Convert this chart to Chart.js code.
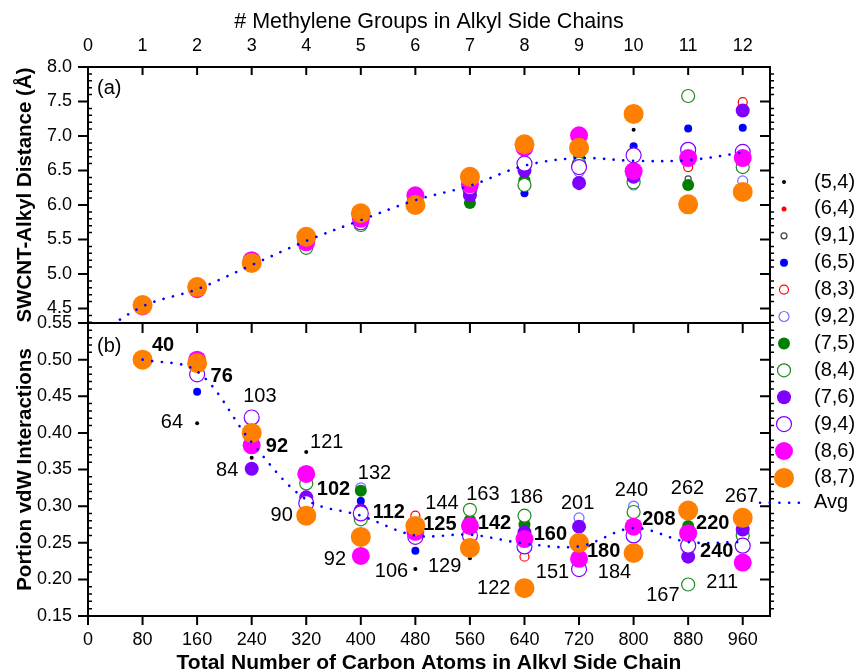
<!DOCTYPE html>
<html>
<head>
<meta charset="utf-8">
<title>SWCNT alkyl side chains</title>
<script src="https://cdn.jsdelivr.net/npm/chart.js@4.4.1/dist/chart.umd.min.js"></script>
<style>
  body { margin: 0; background: #fff; }
  #page { position: relative; width: 859px; height: 669px; overflow: hidden; background: #fff; }
  #page canvas { position: absolute; left: 0; top: 0; }
</style>
</head>
<body>
<div id="page">
  <canvas id="distanceChart" width="859" height="690"></canvas>
  <canvas id="portionChart" width="859" height="690"></canvas>
</div>
<script>
const FONT = "'Liberation Sans', Arial, Helvetica, sans-serif";

const carbonAtoms = [80, 160, 240, 320, 400, 480, 560, 640, 720, 800, 880, 960];
const carbonTicks = [0, 80, 160, 240, 320, 400, 480, 560, 640, 720, 800, 880, 960];
const methyleneTicks = [0, 1, 2, 3, 4, 5, 6, 7, 8, 9, 10, 11, 12];
const distanceTicks = [4.5, 5.0, 5.5, 6.0, 6.5, 7.0, 7.5, 8.0];
const portionTicks = [0.15, 0.20, 0.25, 0.30, 0.35, 0.40, 0.45, 0.50, 0.55];

const tubeNames = ['(5,4)', '(6,4)', '(9,1)', '(6,5)', '(8,3)', '(9,2)', '(7,5)', '(8,4)', '(7,6)', '(9,4)', '(8,6)', '(8,7)'];

// (a) SWCNT-alkyl distance (Å), one value per carbon count
const distance54 = [4.53, 4.78, 5.13, 5.48, 5.78, 6.07, 6.28, 6.57, 6.60, 7.09, 6.65, 6.83];
const distance64 = [4.53, 4.78, 5.13, 5.48, 5.78, 6.07, 6.28, 6.57, 6.25, 6.55, 6.54, 6.70];
const distance91 = [4.53, 4.78, 5.13, 5.48, 5.78, 6.07, 6.28, 6.57, 6.55, 6.45, 6.38, 6.80];
const distance65 = [4.53, 4.78, 5.13, 5.48, 5.78, 6.07, 6.25, 6.17, 6.57, 6.85, 7.11, 7.12];
const distance83 = [4.53, 4.78, 5.13, 5.48, 5.78, 6.07, 6.28, 6.57, 6.60, 6.55, 6.55, 7.49];
const distance92 = [4.53, 4.78, 5.13, 5.48, 5.78, 6.07, 6.28, 6.57, 6.48, 6.29, 6.70, 6.35];
const distance75 = [4.53, 4.78, 5.13, 5.45, 5.76, 6.07, 6.03, 6.36, 6.71, 6.36, 6.29, 6.62];
const distance84 = [4.53, 4.78, 5.13, 5.38, 5.71, 6.07, 6.20, 6.29, 6.60, 6.33, 7.58, 6.55];
const distance76 = [4.53, 4.78, 5.15, 5.46, 5.75, 6.07, 6.14, 6.50, 6.32, 6.41, 6.75, 7.37];
const distance94 = [4.53, 4.78, 5.18, 5.46, 5.75, 6.07, 6.26, 6.60, 6.55, 6.72, 6.80, 6.77];
const distance86 = [4.53, 4.78, 5.20, 5.46, 5.80, 6.14, 6.30, 6.83, 7.01, 6.49, 6.68, 6.68];
const distance87 = [4.55, 4.81, 5.16, 5.54, 5.88, 6.00, 6.41, 6.88, 6.83, 7.32, 6.01, 6.19];
const avgDistanceCarbon = [0, 80, 160, 240, 320, 400, 480, 560, 640, 720, 800, 880, 960];
const avgDistance = [4.02, 4.53, 4.78, 5.13, 5.48, 5.78, 6.07, 6.28, 6.57, 6.68, 6.64, 6.65, 6.76];

// (b) portion of vdW interactions
const portion54 = [0.500, 0.413, 0.366, 0.374, 0.310, 0.214, 0.229, 0.250, 0.245, 0.270, 0.250, 0.250];
const portion64 = [0.500, 0.480, 0.390, 0.310, 0.290, 0.260, 0.260, 0.250, 0.245, 0.270, 0.250, 0.250];
const portion91 = [0.500, 0.480, 0.390, 0.310, 0.290, 0.260, 0.260, 0.250, 0.245, 0.270, 0.250, 0.250];
const portion65 = [0.500, 0.456, 0.390, 0.310, 0.307, 0.239, 0.260, 0.250, 0.245, 0.270, 0.250, 0.250];
const portion83 = [0.500, 0.480, 0.390, 0.310, 0.290, 0.287, 0.260, 0.231, 0.245, 0.270, 0.250, 0.250];
const portion92 = [0.500, 0.480, 0.390, 0.310, 0.325, 0.260, 0.260, 0.250, 0.284, 0.300, 0.250, 0.250];
const portion75 = [0.500, 0.481, 0.390, 0.310, 0.321, 0.260, 0.281, 0.275, 0.245, 0.257, 0.273, 0.260];
const portion84 = [0.500, 0.480, 0.390, 0.331, 0.282, 0.260, 0.295, 0.287, 0.245, 0.292, 0.193, 0.260];
const portion76 = [0.500, 0.480, 0.351, 0.312, 0.294, 0.260, 0.260, 0.264, 0.272, 0.270, 0.231, 0.268];
const portion94 = [0.500, 0.480, 0.421, 0.304, 0.290, 0.258, 0.260, 0.245, 0.214, 0.260, 0.246, 0.246];
const portion86 = [0.500, 0.500, 0.383, 0.344, 0.232, 0.265, 0.273, 0.255, 0.228, 0.272, 0.263, 0.223];
const portion87 = [0.500, 0.495, 0.400, 0.287, 0.258, 0.273, 0.243, 0.188, 0.250, 0.236, 0.294, 0.284];
const avgPortion = [0.500, 0.484, 0.387, 0.309, 0.287, 0.260, 0.261, 0.249, 0.245, 0.270, 0.251, 0.251];

// numbers written next to the points in (b)
const noteText = ['40', '76', '64', '103', '92', '84', '121', '102', '90', '92', '132', '112', '144', '125', '106', '163', '142',
  '129', '186', '160', '151', '122', '201', '180', '184', '240', '208', '262', '220', '240', '167', '211', '267'];
const noteCarbon = [110, 196, 123, 252, 277, 204, 350, 360, 284, 362, 420, 441, 519, 516, 445, 579, 596,
  523, 643, 678, 681, 595, 718, 756, 772, 797, 837, 879, 916, 922, 843, 930, 958];
const notePortion = [0.519, 0.477, 0.414, 0.449, 0.381, 0.348, 0.387, 0.323, 0.287, 0.227, 0.344, 0.291, 0.303, 0.275, 0.211, 0.316, 0.276,
  0.217, 0.312, 0.261, 0.209, 0.187, 0.303, 0.238, 0.209, 0.321, 0.282, 0.324, 0.276, 0.238, 0.178, 0.196, 0.313];
const noteBold = [1, 1, 0, 0, 1, 0, 0, 1, 0, 0, 0, 1, 0, 1, 0, 0, 1, 0, 0, 1, 0, 0, 0, 1, 0, 0, 1, 0, 1, 1, 0, 0, 0];

const distanceByTube = [distance54, distance64, distance91, distance65, distance83, distance92,
  distance75, distance84, distance76, distance94, distance86, distance87];
const portionByTube = [portion54, portion64, portion91, portion65, portion83, portion92,
  portion75, portion84, portion76, portion94, portion86, portion87];

const tubeColors = ['#000000', '#ff0000', '#404040', '#0000ff', '#ff0000', '#6f6fff',
  '#008000', '#1f8a1f', '#8000ff', '#8000ff', '#ff00ff', '#ff8000'];
const tubeRadius = [2, 2.5, 3, 4, 4.5, 5, 6, 6.5, 7, 7.5, 9, 10];
const tubeHollow = [false, false, true, false, true, true, false, true, false, true, false, false];

function tubeDatasets(valuesByTube) {
  return tubeNames.map((name, i) => ({
    label: name,
    data: carbonAtoms.map((carbon, k) => ({ x: carbon, y: valuesByTube[i][k] })),
    pointRadius: tubeRadius[i],
    pointHoverRadius: tubeRadius[i],
    pointBackgroundColor: tubeHollow[i] ? '#ffffff' : tubeColors[i],
    pointBorderColor: tubeColors[i],
    pointBorderWidth: tubeHollow[i] ? 1.2 : 0,
    order: tubeNames.length - i + 1,
  }));
}

function avgDataset(xs, ys) {
  return {
    label: 'Avg',
    data: xs.map((x, k) => ({ x, y: ys[k] })),
    showLine: true,
    pointRadius: 0,
    borderColor: '#0000ff',
    borderWidth: 2.6,
    borderDash: [0.1, 9.6],
    borderCapStyle: 'round',
    tension: 0.35,
    fill: false,
    order: 0,
  };
}

function minorTicks(from, to, scale) {
  const list = [];
  for (let k = from; k <= to; k += 1) {
    if (k % 5 !== 0) list.push(k / scale);
  }
  return list;
}

function drawFrame(chart, xScale, xTicks, yTicks, yMinor, xTickMarks) {
  const { ctx, chartArea: area } = chart;
  const yScale = chart.scales.y;
  ctx.save();
  ctx.strokeStyle = '#000';
  ctx.lineWidth = 2;
  ctx.strokeRect(area.left, area.top, area.right - area.left, area.bottom - area.top);
  ctx.beginPath();
  xTicks.forEach(value => {
    const px = xScale.getPixelForValue(value);
    xTickMarks.forEach(([y0, length]) => {
      ctx.moveTo(px, y0);
      ctx.lineTo(px, y0 + length);
    });
  });
  yTicks.forEach(value => {
    const py = yScale.getPixelForValue(value);
    ctx.moveTo(area.left - 10, py);
    ctx.lineTo(area.left, py);
    ctx.moveTo(area.right - 10, py);
    ctx.lineTo(area.right, py);
  });
  ctx.stroke();
  ctx.lineWidth = 1.5;
  ctx.beginPath();
  yMinor.forEach(value => {
    const py = yScale.getPixelForValue(value);
    ctx.moveTo(area.left, py);
    ctx.lineTo(area.left + 4, py);
    ctx.moveTo(area.right, py);
    ctx.lineTo(area.right + 4, py);
  });
  ctx.stroke();
  ctx.restore();
}

function panelLetter(ctx, text, x, y) {
  ctx.save();
  ctx.fillStyle = '#000';
  ctx.font = `20px ${FONT}`;
  ctx.textAlign = 'left';
  ctx.textBaseline = 'middle';
  ctx.fillText(text, x, y);
  ctx.restore();
}

const distanceFrame = {
  id: 'distanceFrame',
  afterDraw(chart) {
    const area = chart.chartArea;
    drawFrame(chart, chart.scales.x2, methyleneTicks, distanceTicks, minorTicks(43, 80, 10), [[area.top, 8]]);
    panelLetter(chart.ctx, '(a)', area.left + 9, area.top + 21);
  },
};

const portionFrame = {
  id: 'portionFrame',
  afterDraw(chart) {
    const { ctx, chartArea: area, scales } = chart;
    drawFrame(chart, scales.x, carbonTicks, portionTicks, minorTicks(15, 55, 100), [[area.top, 10], [area.bottom, 9]]);
    panelLetter(ctx, '(b)', area.left + 9, area.top + 23);

    ctx.save();
    ctx.fillStyle = '#000';
    ctx.textAlign = 'center';
    ctx.textBaseline = 'middle';
    noteText.forEach((text, i) => {
      ctx.font = `${noteBold[i] ? 'bold ' : ''}20px ${FONT}`;
      ctx.fillText(text, scales.x.getPixelForValue(noteCarbon[i]), scales.y.getPixelForValue(notePortion[i]));
    });

    // legend to the right of both panels
    const markerX = 784;
    const textX = 814;
    ctx.textAlign = 'left';
    ctx.font = `20px ${FONT}`;
    tubeNames.forEach((name, i) => {
      const rowY = 182 + i * 26.9;
      ctx.beginPath();
      ctx.arc(markerX, rowY, tubeRadius[i], 0, Math.PI * 2);
      if (tubeHollow[i]) {
        ctx.fillStyle = '#ffffff';
        ctx.fill();
        ctx.lineWidth = 1.2;
        ctx.strokeStyle = tubeColors[i];
        ctx.stroke();
      } else {
        ctx.fillStyle = tubeColors[i];
        ctx.fill();
      }
      ctx.fillStyle = '#000';
      ctx.fillText(name, textX, rowY);
    });
    const avgY = 180 + tubeNames.length * 26.9;
    ctx.strokeStyle = '#0000ff';
    ctx.lineWidth = 2.6;
    ctx.lineCap = 'round';
    ctx.setLineDash([0.1, 9.6]);
    ctx.beginPath();
    ctx.moveTo(760, avgY);
    ctx.lineTo(807, avgY);
    ctx.stroke();
    ctx.setLineDash([]);
    ctx.fillStyle = '#000';
    ctx.fillText('Avg', textX, avgY);
    ctx.restore();
  },
};

const tickFont = { family: FONT, size: 18 };

new Chart(document.getElementById('distanceChart'), {
  type: 'scatter',
  data: {
    datasets: [...tubeDatasets(distanceByTube), avgDataset(avgDistanceCarbon, avgDistance)],
  },
  options: {
    responsive: false,
    animation: false,
    devicePixelRatio: 1,
    layout: { padding: { left: 0, right: 89, top: 0, bottom: 367 } },
    plugins: { legend: { display: false }, tooltip: { enabled: false } },
    scales: {
      x: { type: 'linear', display: false, min: 0, max: 1000 },
      x2: {
        type: 'linear',
        axis: 'x',
        position: 'top',
        min: 0,
        max: 12.5,
        grid: { display: false },
        border: { display: false },
        afterBuildTicks: scale => { scale.ticks = methyleneTicks.map(value => ({ value })); },
        afterFit: scale => { scale.height = 67; },
        ticks: { padding: 2, color: '#000', font: tickFont, autoSkip: false, maxRotation: 0 },
        title: {
          display: true,
          text: '# Methylene Groups in Alkyl Side Chains',
          color: '#000',
          font: { family: FONT, size: 21.5 },
          padding: { top: 9, bottom: 0 },
        },
      },
      y: {
        type: 'linear',
        min: 4.29,
        max: 8.0,
        grid: { display: false },
        border: { display: false },
        afterBuildTicks: scale => { scale.ticks = distanceTicks.map(value => ({ value })); },
        afterFit: scale => { scale.width = 88; },
        ticks: { padding: 8, color: '#000', font: tickFont, callback: value => value.toFixed(1) },
        title: {
          display: true,
          text: 'SWCNT-Alkyl Distance (Å)',
          color: '#000',
          font: { family: FONT, size: 20.5, weight: 'bold' },
          padding: { top: 13, bottom: 0 },
        },
      },
    },
  },
  plugins: [distanceFrame],
});

new Chart(document.getElementById('portionChart'), {
  type: 'scatter',
  data: {
    datasets: [...tubeDatasets(portionByTube), avgDataset(carbonAtoms, avgPortion)],
  },
  options: {
    responsive: false,
    animation: false,
    devicePixelRatio: 1,
    layout: { padding: { left: 0, right: 89, top: 323, bottom: 0 } },
    plugins: { legend: { display: false }, tooltip: { enabled: false } },
    scales: {
      x: {
        type: 'linear',
        position: 'bottom',
        min: 0,
        max: 1000,
        grid: { display: false },
        border: { display: false },
        afterBuildTicks: scale => { scale.ticks = carbonTicks.map(value => ({ value })); },
        afterFit: scale => { scale.height = 74; },
        ticks: { padding: 5, color: '#000', font: tickFont, autoSkip: false, maxRotation: 0 },
        title: {
          display: true,
          text: 'Total Number of Carbon Atoms in Alkyl Side Chain',
          color: '#000',
          font: { family: FONT, size: 21, weight: 'bold' },
          padding: { top: 0, bottom: 14 },
        },
      },
      y: {
        type: 'linear',
        min: 0.15,
        max: 0.55,
        grid: { display: false },
        border: { display: false },
        afterBuildTicks: scale => { scale.ticks = portionTicks.map(value => ({ value })); },
        afterFit: scale => { scale.width = 88; },
        ticks: { padding: 8, color: '#000', font: tickFont, callback: value => value.toFixed(2) },
        title: {
          display: true,
          text: 'Portion vdW Interactions',
          color: '#000',
          font: { family: FONT, size: 20.5, weight: 'bold' },
          padding: { top: 13, bottom: 0 },
        },
      },
    },
  },
  plugins: [portionFrame],
});
</script>
</body>
</html>
